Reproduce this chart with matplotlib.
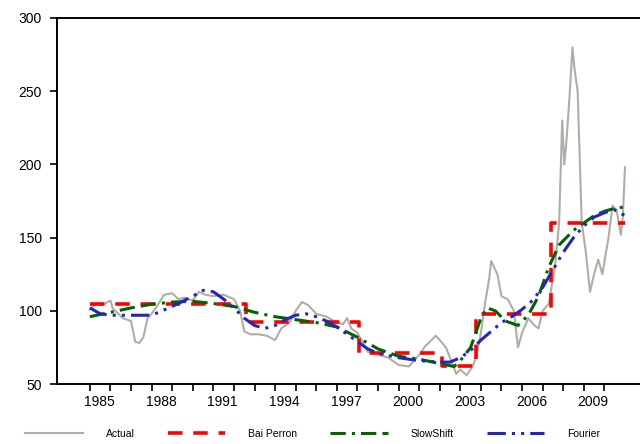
import matplotlib
matplotlib.use("Agg")
import matplotlib.pyplot as plt
import numpy as np

# Actual series
act_x = [1985.0, 1985.3, 1985.6, 1986.0, 1986.1, 1986.3, 1986.6, 1987.0, 1987.2, 1987.4,
         1987.6, 1987.8, 1988.0, 1988.3, 1988.6, 1989.0, 1989.3, 1989.6, 1990.0, 1990.3,
         1990.6, 1991.0, 1991.5, 1992.0, 1992.3, 1992.5, 1992.8, 1993.2, 1993.6, 1994.0,
         1994.3, 1994.7, 1995.0, 1995.3, 1995.6, 1996.0, 1996.5, 1997.0, 1997.3, 1997.5,
         1997.7, 1998.0, 1998.5, 1999.0, 1999.5, 2000.0, 2000.5, 2001.0, 2001.3, 2001.6,
         2001.8, 2002.0, 2002.3, 2002.5, 2002.8, 2003.0, 2003.3, 2003.6, 2003.8, 2004.0,
         2004.2, 2004.4, 2004.5, 2004.8, 2005.0, 2005.3, 2005.6, 2005.8, 2006.0, 2006.3,
         2006.6, 2006.8, 2007.0, 2007.3, 2007.6, 2007.8, 2007.95, 2008.05, 2008.15, 2008.3,
         2008.45, 2008.55, 2008.7, 2008.9, 2009.1, 2009.3, 2009.5, 2009.7, 2009.9, 2010.2,
         2010.4, 2010.6, 2010.8, 2010.9, 2011.0]
act_y = [101, 105, 104, 107, 102, 99, 95, 93, 79, 78,
         82, 95, 98, 104, 111, 112, 108, 109, 107, 113,
         111, 110, 111, 108, 100, 86, 84, 84, 83, 80,
         88, 92, 100, 106, 104, 98, 96, 92, 91, 95,
         88, 85, 72, 70, 68, 63, 62, 70, 76, 80,
         83, 80, 75, 68, 57, 60, 56, 62, 70, 85,
         105, 122, 134, 125, 110, 108, 100, 75, 85, 95,
         90, 88, 100, 105, 130, 160, 230, 200, 215, 245,
         280, 265, 250, 160, 140, 113, 125, 135, 125, 150,
         172, 168, 152, 165, 198]

# Bai Perron step breaks
bp_x = [1985.0, 1992.6, 1998.1, 2002.1, 2003.75, 2007.4, 2011.0]
bp_y = [104.5, 92.5, 71.5, 62.5, 98, 160]

# SlowShift
ss_x = [1985.0, 1986.0, 1987.0, 1988.0, 1989.0, 1990.0, 1991.0, 1992.0, 1993.0, 1994.0,
        1995.0, 1996.0, 1997.0, 1998.0, 1999.0, 2000.0, 2001.0, 2002.0, 2002.7, 2003.0,
        2003.5, 2004.0, 2004.3, 2004.7, 2005.2, 2005.8, 2006.3, 2006.8, 2007.3, 2007.8,
        2008.5, 2009.0, 2009.5, 2010.0, 2010.5, 2011.0]
ss_y = [96, 99, 102, 104.5, 106, 106.5, 105, 103, 99, 96,
        94, 92, 89, 82, 74, 69, 67, 64, 62, 66,
        75, 95, 102, 100, 93, 90, 97, 110, 130, 145,
        155, 160, 165, 168, 170, 171]

# Fourier
fo_x = [1985.0, 1985.5, 1986.0, 1987.0, 1988.0, 1989.0, 1990.0, 1990.5, 1991.0, 1991.5,
        1992.0, 1992.5, 1993.0, 1993.5, 1994.0, 1994.5, 1995.0, 1995.5, 1996.0, 1996.5,
        1997.0, 1997.5, 1998.0, 1998.5, 1999.0, 2000.0, 2001.0, 2002.0, 2002.5, 2003.0,
        2003.5, 2004.0, 2004.5, 2005.0, 2005.5, 2006.0, 2006.5, 2007.0, 2007.5, 2008.0,
        2008.5, 2009.0, 2009.5, 2010.0, 2010.5, 2011.0]
fo_y = [102, 98, 97, 97, 97, 103, 110, 114, 113, 108,
        102, 95, 90, 88, 90, 94, 97, 98, 96, 93,
        89, 84, 79, 74, 71, 68, 66, 65, 65, 68,
        73, 80, 86, 92, 96, 101, 107, 116, 128, 140,
        150, 158, 164, 167, 169, 165]

year_ticks = list(range(1985, 2011))
year_labels = list(range(1985, 2010, 3))

plt.rcParams['font.family'] = ['Liberation Sans Narrow', 'Liberation Sans', 'DejaVu Sans']

fig = plt.figure(figsize=(6.4, 4.44), dpi=100)
ax = fig.add_axes([0.089, 0.135, 0.911, 0.8245])

ax.plot(act_x, act_y, color='#aeaea6', lw=1.5, label='Actual')
ax.step(bp_x, bp_y + [bp_y[-1]], where='post', color='#ff0000', lw=2.6,
        dashes=(4, 3), label='Bai Perron')
ax.plot(ss_x, ss_y, color='#006400', lw=2.2, dashes=(5, 2, 1, 2, 5, 2), label='SlowShift')
ax.plot(fo_x, fo_y, color='#2525b8', lw=2.2, dashes=(6, 2, 1, 2, 1, 2), label='Fourier')

ax.set_xlim(1983.4, 2011.73)
ax.set_ylim(50, 300)
ax.set_yticks(range(50, 301, 50))
ax.tick_params(axis='y', labelsize=10, length=5, width=1.2, pad=6)

ax.set_xticks(year_ticks)
ax.set_xticklabels([])
ax.tick_params(axis='x', which='major', length=5, width=1.2)
ax.set_xticks([y + 0.45 for y in year_labels], minor=True)
ax.set_xticklabels([str(y) for y in year_labels], minor=True)
ax.tick_params(axis='x', which='minor', length=0, labelsize=10, pad=8)

ax.spines['right'].set_visible(False)
for s in ['left', 'top', 'bottom']:
    ax.spines[s].set_linewidth(1.4)

fig.legend(loc='lower left', bbox_to_anchor=(0.025, -0.01), ncol=4, frameon=False,
           fontsize=7.5, handlelength=5.5, columnspacing=3.2, handletextpad=2.2)

fig.savefig('out.png', dpi=100)
